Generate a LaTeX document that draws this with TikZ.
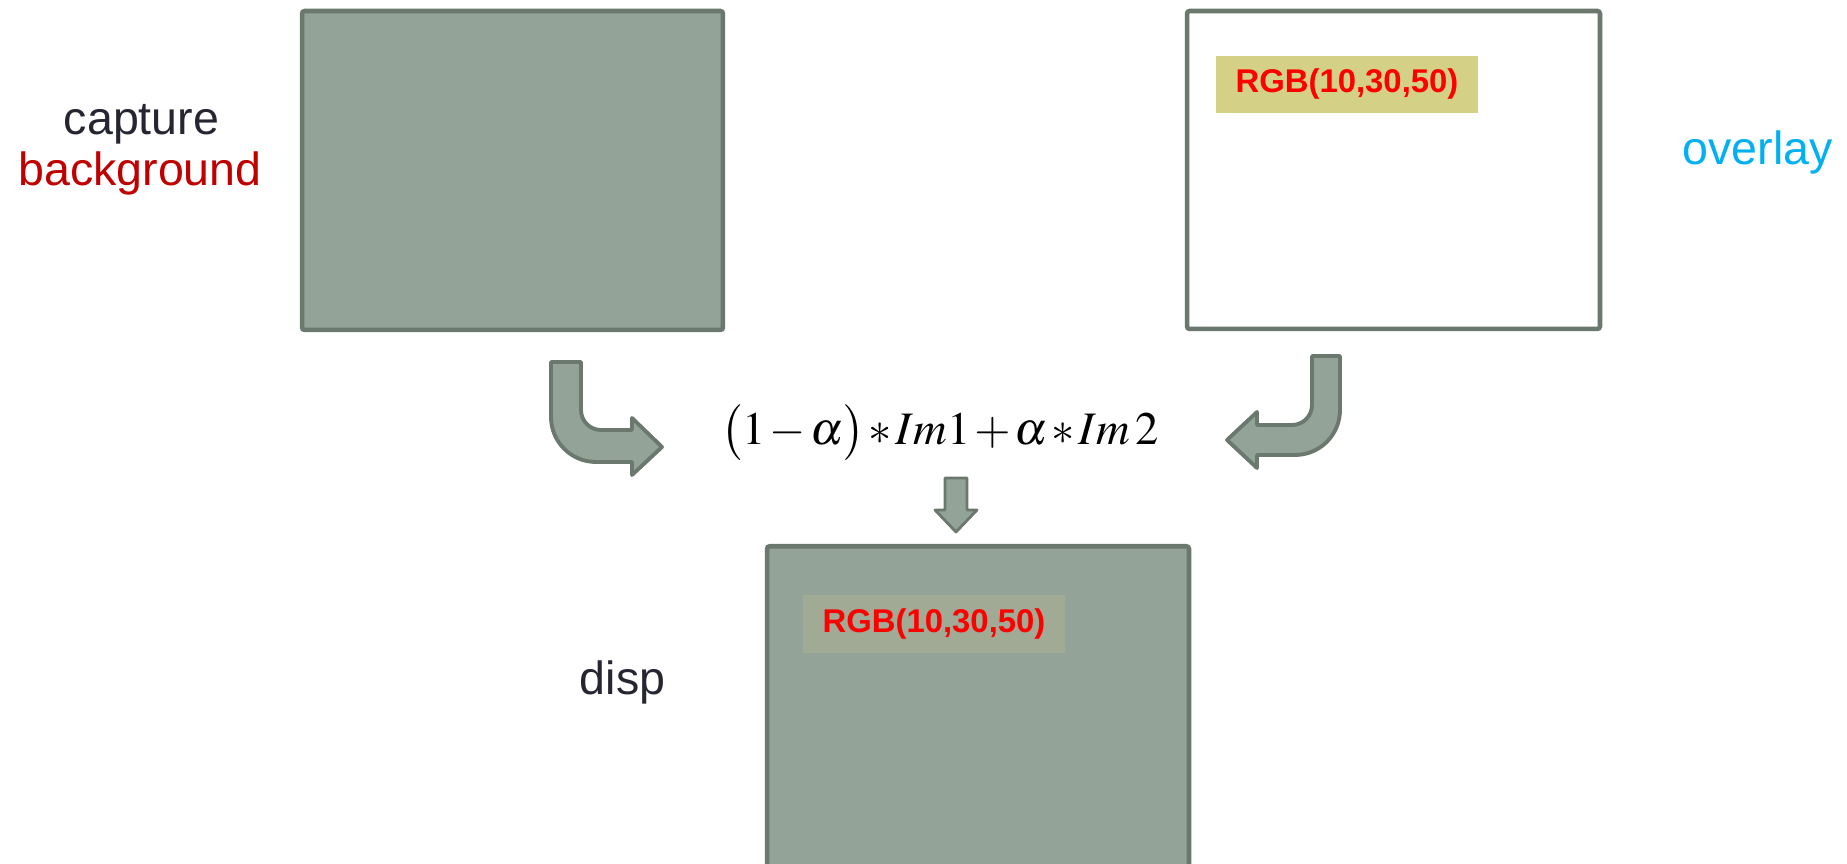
\documentclass[tikz,border=0pt]{standalone}
\usepackage[no-math]{fontspec}
\usepackage{mathptmx}
\setmainfont{Liberation Sans}

\definecolor{boxfill}{RGB}{147,163,151}
\definecolor{boxline}{RGB}{107,120,110}
\definecolor{tagyellow}{RGB}{212,209,135}
\definecolor{taggreen}{RGB}{160,170,148}
\definecolor{txtdark}{RGB}{38,38,50}
\definecolor{txtred}{RGB}{192,0,0}
\definecolor{txtblue}{RGB}{0,176,240}

\begin{document}
\begin{tikzpicture}[x=0.02cm, y=0.02cm]
                \tikzset{
                    imgbox/.style={draw=boxline, line width=2.6pt, rounded corners=1.5pt, inner sep=0pt},
                    rgbtag/.style={inner sep=0pt, minimum width=5.24cm, minimum height=1.15cm,
                        text=red, font=\fontsize{18.7}{22}\selectfont\bfseries},
                    caption/.style={anchor=base, inner sep=0pt, font=\fontsize{26.5}{32}\selectfont},
                    bentarrow/.style={fill=boxfill, draw=boxline, line width=2.2pt, line join=round}
                }
                \useasboundingbox (0,0) rectangle (1847,864);

                % IMAGES
                \node[imgbox, fill=boxfill, minimum width=8.42cm, minimum height=6.38cm] (capture) at (512.5,693.5) {};
                \node[imgbox, fill=white, minimum width=8.26cm, minimum height=6.36cm] (overlay) at (1393.5,694) {};
                \node[imgbox, fill=boxfill, minimum width=8.44cm, minimum height=7cm, anchor=north] (disp) at (978,320) {};

                % RGB TAGS
                \node[rgbtag, fill=tagyellow] (overlaytag) at (1347,779.5) {RGB(10,30,50)};
                \node[rgbtag, fill=taggreen] (disptag) at (934,240) {RGB(10,30,50)};

                % CAPTIONS
                \node[caption, text=txtdark] (capturetxt) at (141.5,729) {capture};
                \node[caption, text=txtred] (backgroundtxt) at (140,678) {background};
                \node[caption, text=txtblue] (overlaytxt) at (1757.5,699) {overlay};
                \node[caption, text=txtdark] (disptxt) at (622.5,169) {disp};

                % FORMULA
                \node[inner sep=0pt, font=\fontsize{26.5}{32}\selectfont] (blend) at (940,431)
                    {$\medmuskip=1.5mu \bigl(1-\alpha\bigr)*Im1+\alpha*Im\,2$};

                % ARROWS
                \draw[bentarrow] (551,502) -- (551,447) arc (180:270:45) -- (632,402) -- (632,389)
                    -- (662,417) -- (632,446) -- (632,434) -- (601,434) arc (270:180:20) -- (581,502) -- cycle;
                \draw[bentarrow] (1340,508) -- (1340,454) arc (0:-90:45) -- (1257,409) -- (1257,396)
                    -- (1227,424) -- (1257,452) -- (1257,439) -- (1292,439) arc (-90:0:20) -- (1312,508) -- cycle;
                \draw[bentarrow, line width=1.6pt] (945,386) -- (945,354) -- (935,354) -- (956,332)
                    -- (977,354) -- (967,354) -- (967,386) -- cycle;

\end{tikzpicture}
\end{document}
